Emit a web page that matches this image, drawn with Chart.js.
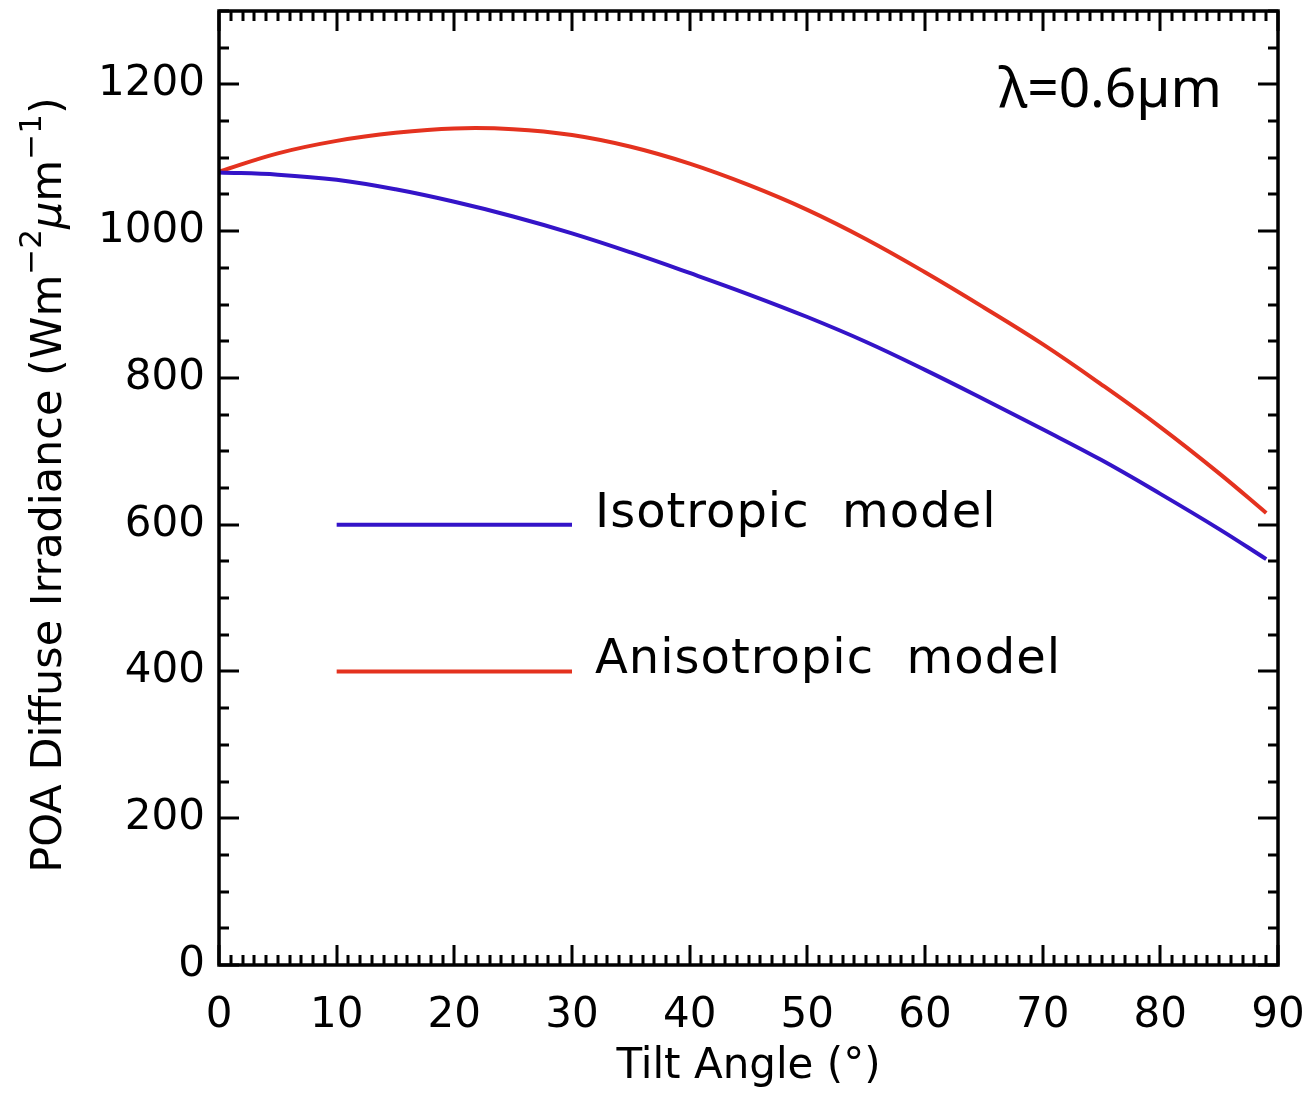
<!DOCTYPE html>
<html>
<head>
<meta charset="utf-8">
<script src="https://cdn.jsdelivr.net/npm/chart.js@4/dist/chart.umd.min.js"></script>
<style>
html,body{margin:0;padding:0;background:#fff;}
#wrap{width:1309px;height:1093px;position:relative;}
</style>
</head>
<body>
<div id="wrap"><canvas id="c" width="1309" height="1093"></canvas></div>
<script>
// ---- data ----
const tiltAngles = [0, 5, 10, 15, 20, 25, 30, 35, 40, 45, 50, 55, 60, 65, 70, 75, 80, 85, 89];
const isotropic  = [1080, 1077, 1070, 1057, 1040, 1020, 997, 971, 943, 914, 883, 849, 811, 771, 730, 688, 642, 594, 553];
const anisotropic = [1081, 1106, 1123, 1134, 1140, 1139, 1131, 1115, 1092, 1063, 1029, 989, 944, 896, 846, 791, 733, 670, 616];
const xTickValues = [0, 10, 20, 30, 40, 50, 60, 70, 80, 90];
const yTickValues = [0, 200, 400, 600, 800, 1000, 1200];
const seriesLabels = ['Isotropic  model', 'Anisotropic  model'];
const seriesColors = ['#3414c8', '#e4321f'];
const legendSampleX = [10, 30];
const legendSampleY = [600, 400];
const annotationText = 'λ=0.6µm';
const xTitleText = 'Tilt Angle (°)';
const yTitleParts = [
  {t: 'POA Diffuse Irradiance (Wm', kind: 'n'},
  {t: '\u22122', kind: 'sup'},
  {t: 'µ', kind: 'it'},
  {t: 'm', kind: 'n'},
  {t: '\u22121', kind: 'sup'},
  {t: ')', kind: 'n'}
];

const FONT = 'DejaVu Sans';

const decorPlugin = {
  id: 'decor',
  afterDatasetsDraw(chart) {
    const {ctx, chartArea: a, scales: {x, y}} = chart;
    ctx.save();
    // inward ticks on all four sides
    ctx.strokeStyle = '#000';
    ctx.lineWidth = 3;
    ctx.beginPath();
    for (let v = x.min; v <= x.max; v += 1) {
      const px = Math.round(x.getPixelForValue(v));
      const L = (v % 10 === 0) ? 20 : 10;
      ctx.moveTo(px, a.bottom); ctx.lineTo(px, a.bottom - L);
      ctx.moveTo(px, a.top); ctx.lineTo(px, a.top + L);
    }
    for (let v = y.min; v <= y.max; v += 50) {
      const py = Math.round(y.getPixelForValue(v));
      const L = (v % 200 === 0) ? 20 : 10;
      ctx.moveTo(a.left, py); ctx.lineTo(a.left + L, py);
      ctx.moveTo(a.right, py); ctx.lineTo(a.right - L, py);
    }
    ctx.stroke();
    ctx.lineWidth = 3.5;
    ctx.strokeRect(a.left, a.top, a.right - a.left, a.bottom - a.top);

    // legend inside the plot
    chart.data.datasets.forEach((ds, i) => {
      const x1 = x.getPixelForValue(legendSampleX[0]);
      const x2 = x.getPixelForValue(legendSampleX[1]);
      const py = y.getPixelForValue(legendSampleY[i]);
      ctx.strokeStyle = ds.borderColor;
      ctx.lineWidth = 4;
      ctx.beginPath(); ctx.moveTo(x1, py); ctx.lineTo(x2, py); ctx.stroke();
      ctx.fillStyle = '#000';
      ctx.font = '48px "' + FONT + '"';
      ctx.letterSpacing = '1px';
      ctx.textAlign = 'left';
      ctx.textBaseline = 'alphabetic';
      ctx.fillText(ds.label, x2 + 23, py + 2);
      ctx.letterSpacing = '0px';
    });

    // wavelength annotation
    ctx.fillStyle = '#000';
    ctx.font = '55px "Noto Sans"';
    ctx.textAlign = 'right';
    ctx.textBaseline = 'alphabetic';
    ctx.fillText(annotationText, a.right - 56, a.top + 96);

    // y axis title with superscripts, rotated
    const normal = '43px "' + FONT + '"';
    const sup = '31px "' + FONT + '"';
    const ital = 'italic 43px "' + FONT + '"';
    const fontFor = k => k === 'sup' ? sup : (k === 'it' ? ital : normal);
    let total = 0;
    yTitleParts.forEach(p => { ctx.font = fontFor(p.kind); total += ctx.measureText(p.t).width; });
    const cy = (a.top + a.bottom) / 2 - 3;
    ctx.translate(61, cy);
    ctx.rotate(-Math.PI / 2);
    let cx = -total / 2;
    ctx.textAlign = 'left';
    yTitleParts.forEach(p => {
      ctx.font = fontFor(p.kind);
      ctx.fillText(p.t, cx, p.kind === 'sup' ? -20 : 0);
      cx += ctx.measureText(p.t).width;
    });
    ctx.restore();
  }
};

new Chart(document.getElementById('c'), {
  type: 'line',
  data: {
    datasets: [
      {
        label: seriesLabels[0],
        data: tiltAngles.map((t, i) => ({x: t, y: isotropic[i]})),
        borderColor: seriesColors[0],
        borderWidth: 4,
        pointRadius: 0,
        tension: 0.4,
        fill: false
      },
      {
        label: seriesLabels[1],
        data: tiltAngles.map((t, i) => ({x: t, y: anisotropic[i]})),
        borderColor: seriesColors[1],
        borderWidth: 4,
        pointRadius: 0,
        tension: 0.4,
        fill: false
      }
    ]
  },
  options: {
    responsive: false,
    animation: false,
    devicePixelRatio: 1,
    layout: {padding: {top: 11, right: 31, bottom: 0, left: 0}},
    plugins: {legend: {display: false}, tooltip: {enabled: false}},
    scales: {
      x: {
        type: 'linear',
        min: 0, max: 90,
        grid: {display: false, drawTicks: false},
        border: {display: false},
        afterBuildTicks: s => { s.ticks = xTickValues.map(v => ({value: v})); },
        ticks: {
          font: {family: FONT, size: 42},
          color: '#000',
          padding: 26,
          maxRotation: 0,
          autoSkip: false,
          callback: v => String(v)
        },
        title: {
          display: true,
          text: xTitleText,
          color: '#000',
          font: {family: FONT, size: 42},
          padding: {top: 0, bottom: 1}
        },
        afterFit: s => { s.height = 128; s.paddingLeft = 0; s.paddingRight = 0; }
      },
      y: {
        type: 'linear',
        min: 0, max: 1300,
        grid: {display: false, drawTicks: false},
        border: {display: false},
        afterBuildTicks: s => { s.ticks = yTickValues.map(v => ({value: v})); },
        ticks: {
          font: {family: FONT, size: 42},
          color: '#000',
          padding: 14,
          autoSkip: false,
          callback: v => String(v)
        },
        afterFit: s => { s.width = 219; s.paddingTop = 0; s.paddingBottom = 0; }
      }
    }
  },
  plugins: [decorPlugin]
});
</script>
</body>
</html>
